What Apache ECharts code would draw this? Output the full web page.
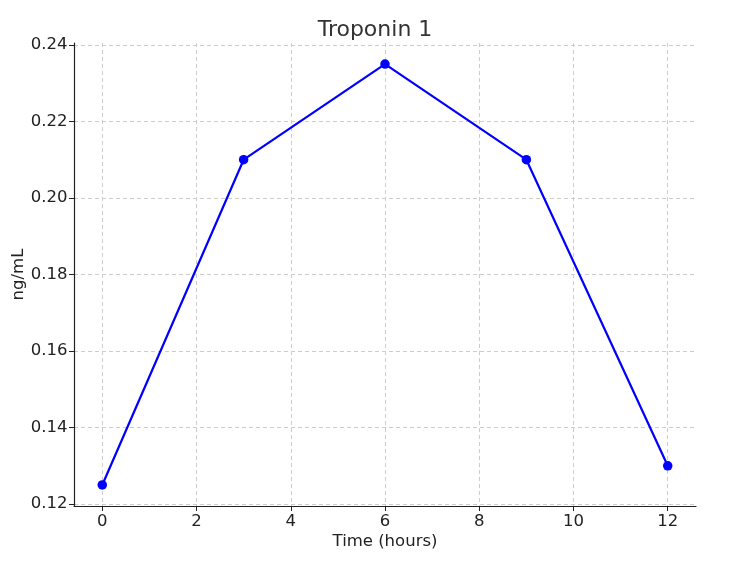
<html>
<head>
    <meta http-equiv="Content-Type" content="text/html; charset=utf-8">
    <script src="https://cdn.jsdelivr.net/npm/echarts@6/dist/echarts.min.js"></script>
    <style>
        * {
            margin: 0;
            padding: 0;
        }

        #main {
            width: 750px;
            height: 562px;
        }
    </style>
</head>
<body>
<div id="main"></div>
<script type="text/javascript">
    // data
    let hours = [0, 3, 6, 9, 12];
    let troponin = [0.125, 0.21, 0.235, 0.21, 0.13];
    let xTicks = [0, 2, 4, 6, 8, 10, 12];
    let yTicks = [0.12, 0.14, 0.16, 0.18, 0.20, 0.22, 0.24];

    let fontName = 'DejaVu Sans';
    let myChart = echarts.init(document.getElementById('main'));

    let option = {
        animation: false,
        textStyle: {fontFamily: fontName},
        title: {
            text: 'Troponin 1',
            left: 'center',
            top: 14,
            textStyle: {fontSize: 22, fontWeight: 'normal', color: '#333333', fontFamily: fontName}
        },
        grid: {left: 74, right: 54, top: 43, bottom: 56, containLabel: false, outerBoundsMode: 'none'},
        xAxis: {
            type: 'value',
            min: -0.6,
            max: 12.6,
            name: 'Time (hours)',
            nameLocation: 'middle',
            nameGap: 27,
            nameMoveOverlap: false,
            nameTextStyle: {fontSize: 16.5, color: '#222222'},
            axisLine: {show: true, onZero: false, lineStyle: {color: '#222222', width: 1.2}},
            axisTick: {show: true, customValues: xTicks, length: 5, lineStyle: {color: '#222222'}},
            axisLabel: {customValues: xTicks, fontSize: 16.5, color: '#222222', margin: 7},
            splitLine: {show: true, customValues: xTicks, lineStyle: {color: '#cccccc', type: [4, 3], width: 1}}
        },
        yAxis: {
            type: 'value',
            min: 0.1195,
            max: 0.2405,
            name: 'ng/mL',
            nameLocation: 'middle',
            nameGap: 47,
            nameMoveOverlap: false,
            nameTextStyle: {fontSize: 16.5, color: '#222222'},
            axisLine: {show: true, onZero: false, lineStyle: {color: '#222222', width: 1.2}},
            axisTick: {show: true, customValues: yTicks, length: 5, lineStyle: {color: '#222222'}},
            axisLabel: {
                customValues: yTicks, fontSize: 16.5, color: '#222222', margin: 6.5,
                formatter: function (v) { return v.toFixed(2); }
            },
            splitLine: {show: true, customValues: yTicks, lineStyle: {color: '#cccccc', type: [4, 3], width: 1}}
        },
        series: [
            {
                type: 'line',
                data: hours.map(function (h, i) { return [h, troponin[i]]; }),
                symbol: 'circle',
                symbolSize: 9.5,
                lineStyle: {color: '#0000ff', width: 2.2},
                itemStyle: {color: '#0000ff'}
            }
        ]
    };

    myChart.setOption(option);
</script>
</body>
</html>
